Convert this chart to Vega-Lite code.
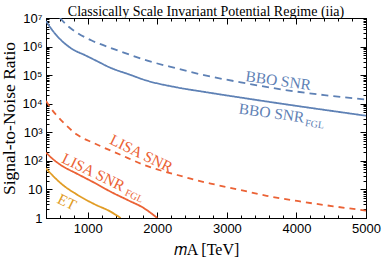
{
  "$schema": "https://vega.github.io/schema/vega-lite/v6.json",
  "width": 320,
  "height": 200,
  "autosize": "none",
  "padding": {"left": 46, "top": 18, "right": 17, "bottom": 42},
  "background": "white",
  "title": {"text": "Classically Scale Invariant Potential Regime (iia)", "font": "Liberation Serif", "fontSize": 14, "fontWeight": "normal", "color": "black", "offset": -7, "anchor": "middle"},
  "config": {
    "view": {"stroke": "black", "strokeWidth": 1},
    "axis": {"grid": false, "domainColor": "black", "tickColor": "black", "labelColor": "black", "titleColor": "black", "labelOverlap": false, "labelFlush": false, "labelBound": false, "titleFontWeight": "normal"}
  },
  "datasets": {
    "curves": [
      {"series": "BBO SNR_FGL", "mA": 400, "snr": 7800000},
      {"series": "BBO SNR_FGL", "mA": 500, "snr": 3500000},
      {"series": "BBO SNR_FGL", "mA": 659, "snr": 1350000},
      {"series": "BBO SNR_FGL", "mA": 800, "snr": 760000},
      {"series": "BBO SNR_FGL", "mA": 946, "snr": 520000},
      {"series": "BBO SNR_FGL", "mA": 1100, "snr": 340000},
      {"series": "BBO SNR_FGL", "mA": 1330, "snr": 180000},
      {"series": "BBO SNR_FGL", "mA": 1600, "snr": 105000},
      {"series": "BBO SNR_FGL", "mA": 1809, "snr": 69000},
      {"series": "BBO SNR_FGL", "mA": 2288, "snr": 37000},
      {"series": "BBO SNR_FGL", "mA": 2671, "snr": 26000},
      {"series": "BBO SNR_FGL", "mA": 3200, "snr": 16400},
      {"series": "BBO SNR_FGL", "mA": 3811, "snr": 9800},
      {"series": "BBO SNR_FGL", "mA": 4400, "snr": 6100},
      {"series": "BBO SNR_FGL", "mA": 5000, "snr": 3800},
      {"series": "BBO SNR", "mA": 600, "snr": 10000000},
      {"series": "BBO SNR", "mA": 700, "snr": 5600000},
      {"series": "BBO SNR", "mA": 850, "snr": 3000000},
      {"series": "BBO SNR", "mA": 1050, "snr": 1660000},
      {"series": "BBO SNR", "mA": 1330, "snr": 890000},
      {"series": "BBO SNR", "mA": 1550, "snr": 580000},
      {"series": "BBO SNR", "mA": 1809, "snr": 350000},
      {"series": "BBO SNR", "mA": 2288, "snr": 170000},
      {"series": "BBO SNR", "mA": 2671, "snr": 100000},
      {"series": "BBO SNR", "mA": 3200, "snr": 56000},
      {"series": "BBO SNR", "mA": 3811, "snr": 31000},
      {"series": "BBO SNR", "mA": 4400, "snr": 20000},
      {"series": "BBO SNR", "mA": 5000, "snr": 14000},
      {"series": "LISA SNR", "mA": 400, "snr": 12600},
      {"series": "LISA SNR", "mA": 467, "snr": 7080},
      {"series": "LISA SNR", "mA": 550, "snr": 3980},
      {"series": "LISA SNR", "mA": 659, "snr": 2090},
      {"series": "LISA SNR", "mA": 850, "snr": 813},
      {"series": "LISA SNR", "mA": 1090, "snr": 417},
      {"series": "LISA SNR", "mA": 1474, "snr": 162},
      {"series": "LISA SNR", "mA": 1809, "snr": 72},
      {"series": "LISA SNR", "mA": 2049, "snr": 46},
      {"series": "LISA SNR", "mA": 2288, "snr": 32},
      {"series": "LISA SNR", "mA": 2527, "snr": 22},
      {"series": "LISA SNR", "mA": 2767, "snr": 16},
      {"series": "LISA SNR", "mA": 3200, "snr": 9.5},
      {"series": "LISA SNR", "mA": 3572, "snr": 6.0},
      {"series": "LISA SNR", "mA": 4051, "snr": 3.8},
      {"series": "LISA SNR", "mA": 4530, "snr": 2.57},
      {"series": "LISA SNR", "mA": 5000, "snr": 1.82},
      {"series": "LISA SNR_FGL", "mA": 400, "snr": 195},
      {"series": "LISA SNR_FGL", "mA": 500, "snr": 115},
      {"series": "LISA SNR_FGL", "mA": 611, "snr": 72},
      {"series": "LISA SNR_FGL", "mA": 850, "snr": 35},
      {"series": "LISA SNR_FGL", "mA": 1090, "snr": 17.4},
      {"series": "LISA SNR_FGL", "mA": 1330, "snr": 8.3},
      {"series": "LISA SNR_FGL", "mA": 1569, "snr": 4.3},
      {"series": "LISA SNR_FGL", "mA": 1809, "snr": 2.2},
      {"series": "LISA SNR_FGL", "mA": 2000, "snr": 1},
      {"series": "ET", "mA": 400, "snr": 55},
      {"series": "ET", "mA": 500, "snr": 30},
      {"series": "ET", "mA": 611, "snr": 16.6},
      {"series": "ET", "mA": 850, "snr": 6.5},
      {"series": "ET", "mA": 1090, "snr": 3.1},
      {"series": "ET", "mA": 1330, "snr": 1.66},
      {"series": "ET", "mA": 1474, "snr": 1}
    ],
    "labels": [
      {"group": "bbo", "series": "BBO SNR", "label": "BBO SNR", "mA": 3739, "snr": 64000},
      {"group": "bbo", "series": "BBO SNR_FGL", "label": "BBO SNR", "mA": 3644, "snr": 4700},
      {"group": "bbosub", "series": "BBO SNR_FGL", "label": "FGL", "mA": 4260, "snr": 1900},
      {"group": "low", "series": "LISA SNR", "label": "LISA SNR", "mA": 1770, "snr": 180},
      {"group": "low", "series": "LISA SNR_FGL", "label": "LISA SNR", "mA": 1080, "snr": 40},
      {"group": "lowsub", "series": "LISA SNR_FGL", "label": "FGL", "mA": 1665, "snr": 5.8},
      {"group": "low", "series": "ET", "label": "ET", "mA": 700, "snr": 3.6}
    ]
  },
  "layer": [
    {
      "data": {"name": "curves"},
      "mark": {"type": "line", "strokeWidth": 1.8, "clip": true, "interpolate": "monotone"},
      "encoding": {
        "x": {"field": "mA", "type": "quantitative", "scale": {"domain": [400, 5000], "nice": false, "zero": false},
          "axis": {"orient": "bottom", "values": [400,600,800,1000,1200,1400,1600,1800,2000,2200,2400,2600,2800,3000,3200,3400,3600,3800,4000,4200,4400,4600,4800,5000],
            "labelExpr": "datum.value % 1000 === 0 ? format(datum.value, 'd') : ''",
            "tickSize": {"condition": {"test": "datum.value % 1000 === 0", "value": -6}, "value": -3},
            "labelFont": "Liberation Sans", "labelFontSize": 13, "labelPadding": 10,
            "title": "𝑚A [TeV]", "titleFont": "Liberation Serif", "titleFontSize": 16, "titlePadding": 3}},
        "y": {"field": "snr", "type": "quantitative", "scale": {"type": "log", "domain": [1, 10000000], "nice": false},
          "axis": {"orient": "left", "values": [1,2,3,4,5,6,7,8,9,10,20,30,40,50,60,70,80,90,100,200,300,400,500,600,700,800,900,1000,2000,3000,4000,5000,6000,7000,8000,9000,10000,20000,30000,40000,50000,60000,70000,80000,90000,100000,200000,300000,400000,500000,600000,700000,800000,900000,1000000,2000000,3000000,4000000,5000000,6000000,7000000,8000000,9000000,10000000],
            "labelExpr": "datum.value == 1 ? '1' : datum.value == 10 ? '10' : datum.value == 100 ? '10²' : datum.value == 1000 ? '10³' : datum.value == 10000 ? '10⁴' : datum.value == 100000 ? '10⁵' : datum.value == 1000000 ? '10⁶' : datum.value == 10000000 ? '10⁷' : ''",
            "tickSize": {"condition": {"test": "abs(log(datum.value)/LN10 - round(log(datum.value)/LN10)) < 0.000001", "value": -6}, "value": -3},
            "labelFont": "Liberation Sans", "labelFontSize": 13, "labelPadding": 10,
            "title": "Signal-to-Noise Ratio", "titleFont": "Liberation Serif", "titleFontSize": 17.5, "titlePadding": 3}},
        "color": {"field": "series", "type": "nominal", "legend": null,
          "scale": {"domain": ["BBO SNR", "BBO SNR_FGL", "LISA SNR", "LISA SNR_FGL", "ET"], "range": ["#5E81B5", "#5E81B5", "#EB6235", "#EB6235", "#E19C24"]}},
        "strokeDash": {"field": "series", "type": "nominal", "legend": null,
          "scale": {"domain": ["BBO SNR", "BBO SNR_FGL", "LISA SNR", "LISA SNR_FGL", "ET"], "range": [[7, 5], [1, 0], [6, 5], [1, 0], [1, 0]]}}
      }
    },
    {
      "data": {"name": "labels"},
      "transform": [{"filter": "datum.group == 'bbo'"}],
      "mark": {"type": "text", "font": "Liberation Serif", "fontSize": 15.5, "angle": 8, "align": "center", "baseline": "middle"},
      "encoding": {
        "x": {"field": "mA", "type": "quantitative",
          "axis": {"orient": "top", "values": [400,600,800,1000,1200,1400,1600,1800,2000,2200,2400,2600,2800,3000,3200,3400,3600,3800,4000,4200,4400,4600,4800,5000],
            "labels": false, "title": null, "labelPadding": 0,
            "tickSize": {"condition": {"test": "datum.value % 1000 === 0", "value": -6}, "value": -3}}},
        "y": {"field": "snr", "type": "quantitative",
          "axis": {"orient": "right", "values": [1,2,3,4,5,6,7,8,9,10,20,30,40,50,60,70,80,90,100,200,300,400,500,600,700,800,900,1000,2000,3000,4000,5000,6000,7000,8000,9000,10000,20000,30000,40000,50000,60000,70000,80000,90000,100000,200000,300000,400000,500000,600000,700000,800000,900000,1000000,2000000,3000000,4000000,5000000,6000000,7000000,8000000,9000000,10000000],
            "labels": false, "title": null,
            "tickSize": {"condition": {"test": "abs(log(datum.value)/LN10 - round(log(datum.value)/LN10)) < 0.000001", "value": -6}, "value": -3}}},
        "text": {"field": "label"},
        "color": {"field": "series", "type": "nominal", "legend": null}
      }
    },
    {
      "data": {"name": "labels"},
      "transform": [{"filter": "datum.group == 'bbosub'"}],
      "mark": {"type": "text", "font": "Liberation Serif", "fontSize": 10, "angle": 8, "align": "center", "baseline": "middle"},
      "encoding": {
        "x": {"field": "mA", "type": "quantitative", "axis": null},
        "y": {"field": "snr", "type": "quantitative", "axis": null},
        "text": {"field": "label"},
        "color": {"field": "series", "type": "nominal", "legend": null}
      }
    },
    {
      "data": {"name": "labels"},
      "transform": [{"filter": "datum.group == 'low'"}],
      "mark": {"type": "text", "font": "Liberation Serif", "fontSize": 15.5, "angle": 26, "align": "center", "baseline": "middle"},
      "encoding": {
        "x": {"field": "mA", "type": "quantitative", "axis": null},
        "y": {"field": "snr", "type": "quantitative", "axis": null},
        "text": {"field": "label"},
        "color": {"field": "series", "type": "nominal", "legend": null}
      }
    },
    {
      "data": {"name": "labels"},
      "transform": [{"filter": "datum.group == 'lowsub'"}],
      "mark": {"type": "text", "font": "Liberation Serif", "fontSize": 10, "angle": 26, "align": "center", "baseline": "middle"},
      "encoding": {
        "x": {"field": "mA", "type": "quantitative", "axis": null},
        "y": {"field": "snr", "type": "quantitative", "axis": null},
        "text": {"field": "label"},
        "color": {"field": "series", "type": "nominal", "legend": null}
      }
    }
  ],
  "resolve": {"axis": {"x": "independent", "y": "independent"}}
}
